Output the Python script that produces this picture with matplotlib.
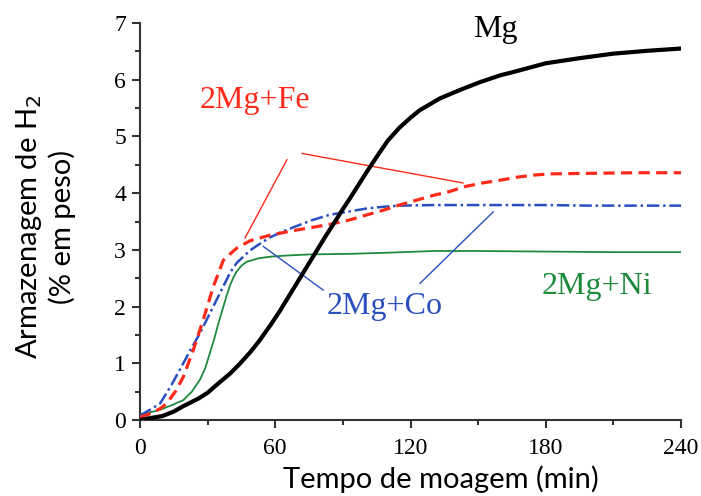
import matplotlib
matplotlib.use("Agg")
import matplotlib.pyplot as plt
from matplotlib.ticker import MultipleLocator

# milling time (min) and H2 storage (wt%) per sample
mg_t = [0, 4, 10, 15, 19, 26, 30, 34, 40, 44, 49, 53, 58, 62, 66, 70, 74, 78, 82, 87, 90,
        93, 97, 101, 106, 110, 115, 120, 124, 133, 142, 151, 160, 166, 180, 195, 210, 225, 240]
mg_h = [0.0, 0.03, 0.07, 0.15, 0.24, 0.38, 0.48, 0.62, 0.82, 0.98, 1.2, 1.4, 1.68, 1.92,
        2.18, 2.44, 2.7, 2.96, 3.22, 3.53, 3.72, 3.9, 4.15, 4.4, 4.7, 4.93, 5.15, 5.33, 5.46,
        5.67, 5.82, 5.96, 6.08, 6.14, 6.29, 6.38, 6.46, 6.51, 6.55]

fe_t = [0, 5, 8.9, 11.8, 16, 19.2, 23.6, 28, 32.5, 37, 40, 42.9, 48.8, 57.7, 69.5, 84.3,
        93.2, 100, 108, 115, 123, 130, 137.5, 143.5, 152, 160, 167, 175, 182, 200, 220, 240]
fe_h = [0.05, 0.12, 0.2, 0.29, 0.52, 0.76, 1.23, 1.76, 2.35, 2.82, 2.93, 3.03, 3.16, 3.26,
        3.35, 3.45, 3.53, 3.61, 3.7, 3.79, 3.88, 3.96, 4.03, 4.11, 4.18, 4.23, 4.28, 4.32, 4.34,
        4.35, 4.36, 4.36]

co_t = [0, 4, 8.9, 14, 19.2, 23, 26.6, 30, 34, 37, 40, 42.9, 45.8, 48.8, 52.5, 57.7, 63,
        69.5, 76, 84.3, 93.2, 100.6, 108, 115, 130, 150, 180, 200, 220, 240]
co_h = [0.08, 0.17, 0.29, 0.62, 1.0, 1.28, 1.53, 1.8, 2.12, 2.36, 2.6, 2.77, 2.88, 2.99, 3.09,
        3.22, 3.32, 3.42, 3.52, 3.62, 3.68, 3.73, 3.76, 3.78, 3.79, 3.79, 3.79, 3.78, 3.78,
        3.78]

ni_t = [0, 4, 8.9, 14, 19.2, 23, 26.6, 29, 31, 33, 34, 35.5, 37, 38.5, 40, 41.5, 42.9, 45,
        47.3, 50, 52.5, 57.7, 65, 75.4, 93.2, 110, 130, 150, 180, 210, 240]
ni_h = [0.1, 0.13, 0.18, 0.26, 0.35, 0.5, 0.71, 0.92, 1.18, 1.44, 1.59, 1.8, 2.0, 2.2, 2.38,
        2.52, 2.62, 2.72, 2.79, 2.82, 2.85, 2.88, 2.9, 2.92, 2.93, 2.95, 2.98, 2.98, 2.97,
        2.96, 2.96]

x_ticks = [0, 60, 120, 180, 240]
y_ticks = [0, 1, 2, 3, 4, 5, 6, 7]

fig = plt.figure(figsize=(7.01, 4.96), dpi=100)
ax = fig.add_axes([0.1997, 0.1532, 0.7718, 0.8004])

ax.plot(ni_t, ni_h, color="#1e8a3c", lw=1.3, zorder=2)
ax.plot(co_t, co_h, color="#2a4fbf", lw=1.8, ls=(0, (5, 1.5, 1, 1.5)), zorder=3)
ax.plot(fe_t, fe_h, color="#ff2a1a", lw=2.3, ls=(0, (3.5, 2)), zorder=4)
ax.plot(mg_t, mg_h, color="black", lw=3.0, zorder=5)

# pointer lines from the labels to the curves
ax.plot([65.2, 46.6], [4.59, 3.21], color="#ff2a1a", lw=1.0)
ax.plot([71.9, 143.3], [4.70, 4.18], color="#ff2a1a", lw=1.0)
ax.plot([54.7, 81.3], [3.06, 2.29], color="#2a4fbf", lw=1.0)
ax.plot([156.7, 124.2], [3.67, 2.41], color="#2a4fbf", lw=1.0)

serif = "Liberation Serif"
lbl = dict(fontsize=23, family=serif, ha="center", va="center")
ax.text(51, 5.64, "2Mg+Fe", color="#ff2a1a", **lbl)
ax.text(108.7, 2.01, "2Mg+Co", color="#2a4fbf", **lbl)
ax.text(202.6, 2.35, "2Mg+Ni", color="#1e8a3c", **lbl)
ax.text(157.5, 6.88, "Mg", color="black", **lbl)

ax.set_xlim(0, 240)
ax.set_ylim(0, 7)
ax.set_xticks(x_ticks)
ax.set_yticks(y_ticks)
ax.xaxis.set_minor_locator(MultipleLocator(30))
ax.yaxis.set_minor_locator(MultipleLocator(0.5))
for side in ("top", "right"):
    ax.spines[side].set_visible(False)
for side in ("left", "bottom"):
    ax.spines[side].set_linewidth(1.5)
    ax.spines[side].set_color("#333333")
ax.tick_params(which="major", length=6, width=1.5, color="#333333", labelsize=17)
ax.tick_params(which="minor", length=3.6, width=1.5, color="#333333")
ax.tick_params(axis="x", which="major", pad=7)
ax.tick_params(axis="y", which="major", pad=4)
for lab in ax.get_xticklabels() + ax.get_yticklabels():
    lab.set_family(serif)

ax.set_xlabel("Tempo de moagem (min)", fontsize=21, family="Lato")
ax.set_ylabel("Armazenagem de H$_2$\n(% em peso)", fontsize=21, family="Lato")
ax.xaxis.set_label_coords(0.557, -0.115)
ax.yaxis.set_label_coords(-0.118, 0.486)

fig.savefig("out.png", dpi=100)
